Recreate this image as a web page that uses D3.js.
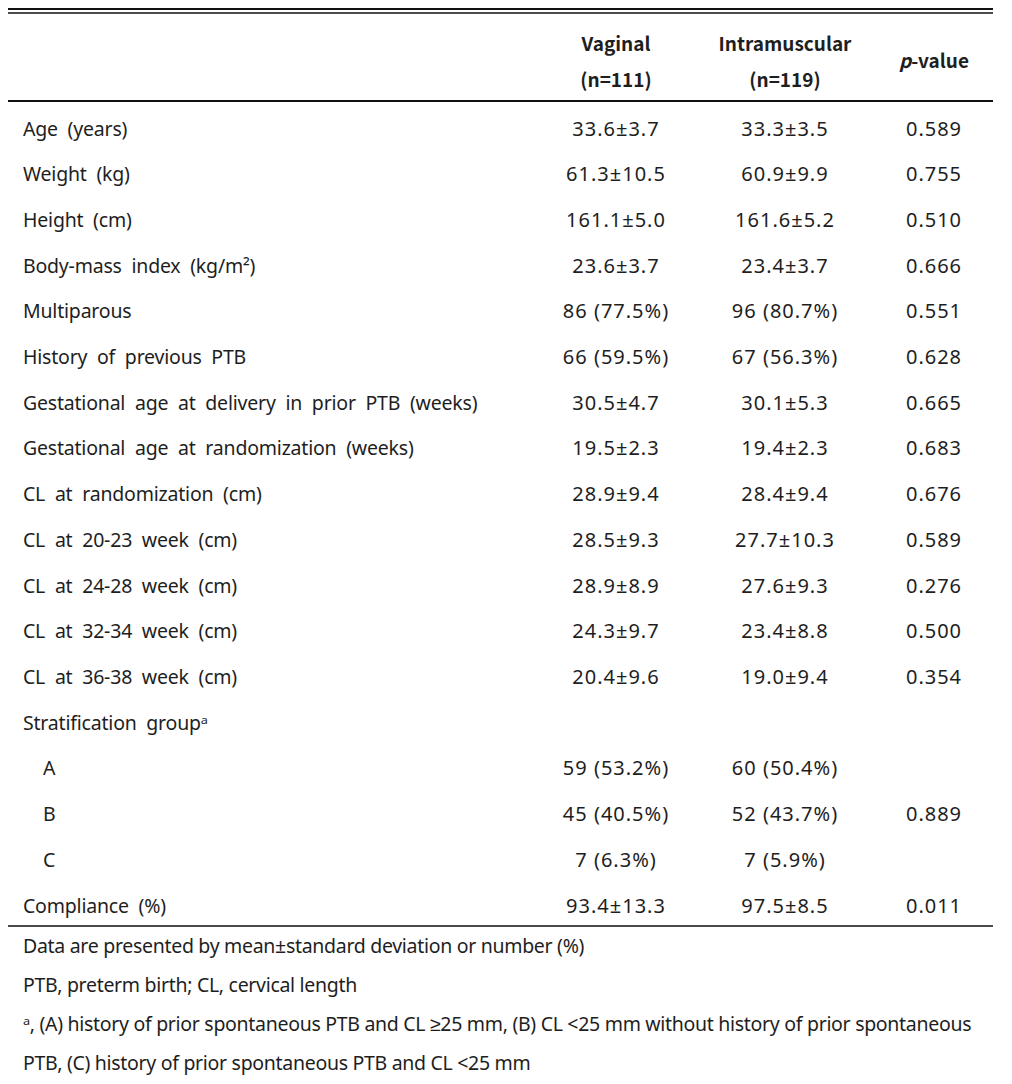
<!DOCTYPE html>
<html>
<head>
<meta charset="utf-8">
<script src="https://cdn.jsdelivr.net/npm/d3@7"></script>
<style>
  body { margin: 0; background: #fff; }
  text { font-family: "Noto Sans", sans-serif; fill: #1e1e1e; white-space: pre; }
  .head { font-family: "Noto Sans CJK KR", "Noto Sans", sans-serif; }
</style>
</head>
<body>
<svg id="chart"></svg>
<script>
// Table contents
const rowLabels = [
  'Age  (years)', 'Weight  (kg)', 'Height  (cm)', 'Body-mass  index  (kg/m²)',
  'Multiparous', 'History  of  previous  PTB',
  'Gestational  age  at  delivery  in  prior  PTB  (weeks)',
  'Gestational  age  at  randomization  (weeks)', 'CL  at  randomization  (cm)',
  'CL  at  20-23  week  (cm)', 'CL  at  24-28  week  (cm)', 'CL  at  32-34  week  (cm)',
  'CL  at  36-38  week  (cm)', 'Stratification  group\u1d43', 'A', 'B', 'C', 'Compliance  (%)'
];
const indented = ['A', 'B', 'C'];
const vaginal = [
  '33.6±3.7', '61.3±10.5', '161.1±5.0', '23.6±3.7', '86 (77.5%)', '66 (59.5%)',
  '30.5±4.7', '19.5±2.3', '28.9±9.4', '28.5±9.3', '28.9±8.9', '24.3±9.7', '20.4±9.6',
  '', '59 (53.2%)', '45 (40.5%)', '7 (6.3%)', '93.4±13.3'
];
const intramuscular = [
  '33.3±3.5', '60.9±9.9', '161.6±5.2', '23.4±3.7', '96 (80.7%)', '67 (56.3%)',
  '30.1±5.3', '19.4±2.3', '28.4±9.4', '27.7±10.3', '27.6±9.3', '23.4±8.8', '19.0±9.4',
  '', '60 (50.4%)', '52 (43.7%)', '7 (5.9%)', '97.5±8.5'
];
const pValues = [
  '0.589', '0.755', '0.510', '0.666', '0.551', '0.628', '0.665', '0.683', '0.676',
  '0.589', '0.276', '0.500', '0.354', '', '', '0.889', '', '0.011'
];
const headers = [
  { lines: ['Vaginal', '(n=111)'] },
  { lines: ['Intramuscular', '(n=119)'] },
  { lines: ['p-value'] }
];
const footnotes = [
  'Data are presented by mean±standard deviation or number (%)',
  'PTB, preterm birth; CL, cervical length',
  'ᵃ, (A) history of prior spontaneous PTB and CL ≥25 mm, (B) CL <25 mm without history of prior spontaneous',
  'PTB, (C) history of prior spontaneous PTB and CL <25 mm'
];

const width = 1012, height = 1084;
const svg = d3.select('#chart').attr('width', width).attr('height', height);

const left = 8, right = 993;

// column centres
const colX = [616, 785, 934];

// row positions
const y = d3.scalePoint()
    .domain(d3.range(rowLabels.length))
    .range([128, 905]);

// rules
svg.append('line').attr('x1', left).attr('x2', right).attr('y1', 9).attr('y2', 9)
    .attr('stroke', '#111').attr('stroke-width', 2);
svg.append('line').attr('x1', left).attr('x2', right).attr('y1', 13).attr('y2', 13)
    .attr('stroke', '#111').attr('stroke-width', 1.5);
svg.append('line').attr('x1', left).attr('x2', right).attr('y1', 101).attr('y2', 101)
    .attr('stroke', '#111').attr('stroke-width', 2);
svg.append('line').attr('x1', left).attr('x2', right).attr('y1', 926).attr('y2', 926)
    .attr('stroke', '#111').attr('stroke-width', 1.5);

// header
headers.forEach((h, i) => {
  if (h.lines.length === 2) {
    h.lines.forEach((t, j) => {
      svg.append('text').attr('class', 'head')
          .attr('x', colX[i]).attr('y', 42 + j * 36)
          .attr('text-anchor', 'middle').attr('dominant-baseline', 'central')
          .attr('font-weight', 'bold').attr('font-size', 19)
          .text(t);
    });
  } else {
    const t = svg.append('text').attr('class', 'head')
        .attr('x', colX[i]).attr('y', 59)
        .attr('text-anchor', 'middle').attr('dominant-baseline', 'central')
        .attr('font-weight', 'bold').attr('font-size', 19);
    t.append('tspan').attr('font-style', 'italic').text('p');
    t.append('tspan').text('-value');
  }
});

// body rows
const rows = svg.selectAll('.row')
    .data(rowLabels.map((d, i) => ({ label: d, v: vaginal[i], m: intramuscular[i], p: pValues[i], i })))
  .enter().append('g')
    .attr('class', 'row')
    .attr('transform', d => 'translate(0,' + y(d.i) + ')');

rows.append('text')
    .attr('x', d => indented.includes(d.label) ? 43 : 23)
    .attr('dominant-baseline', 'central')
    .attr('font-size', 19.5)
    .attr('letter-spacing', -0.2)
    .text(d => d.label);

[['v', 0], ['m', 1], ['p', 2]].forEach(([k, c]) => {
  rows.append('text')
      .attr('x', colX[c]).attr('text-anchor', 'middle').attr('dominant-baseline', 'central')
      .attr('font-size', 20).attr('letter-spacing', 1)
      .text(d => d[k]);
});

// footnotes
svg.selectAll('.foot')
    .data(footnotes)
  .enter().append('text')
    .attr('class', 'foot')
    .attr('x', 23)
    .attr('y', (d, i) => 945 + i * 39)
    .attr('dominant-baseline', 'central')
    .attr('font-size', 19.5)
    .attr('letter-spacing', -0.3)
    .text(d => d);
</script>
</body>
</html>
